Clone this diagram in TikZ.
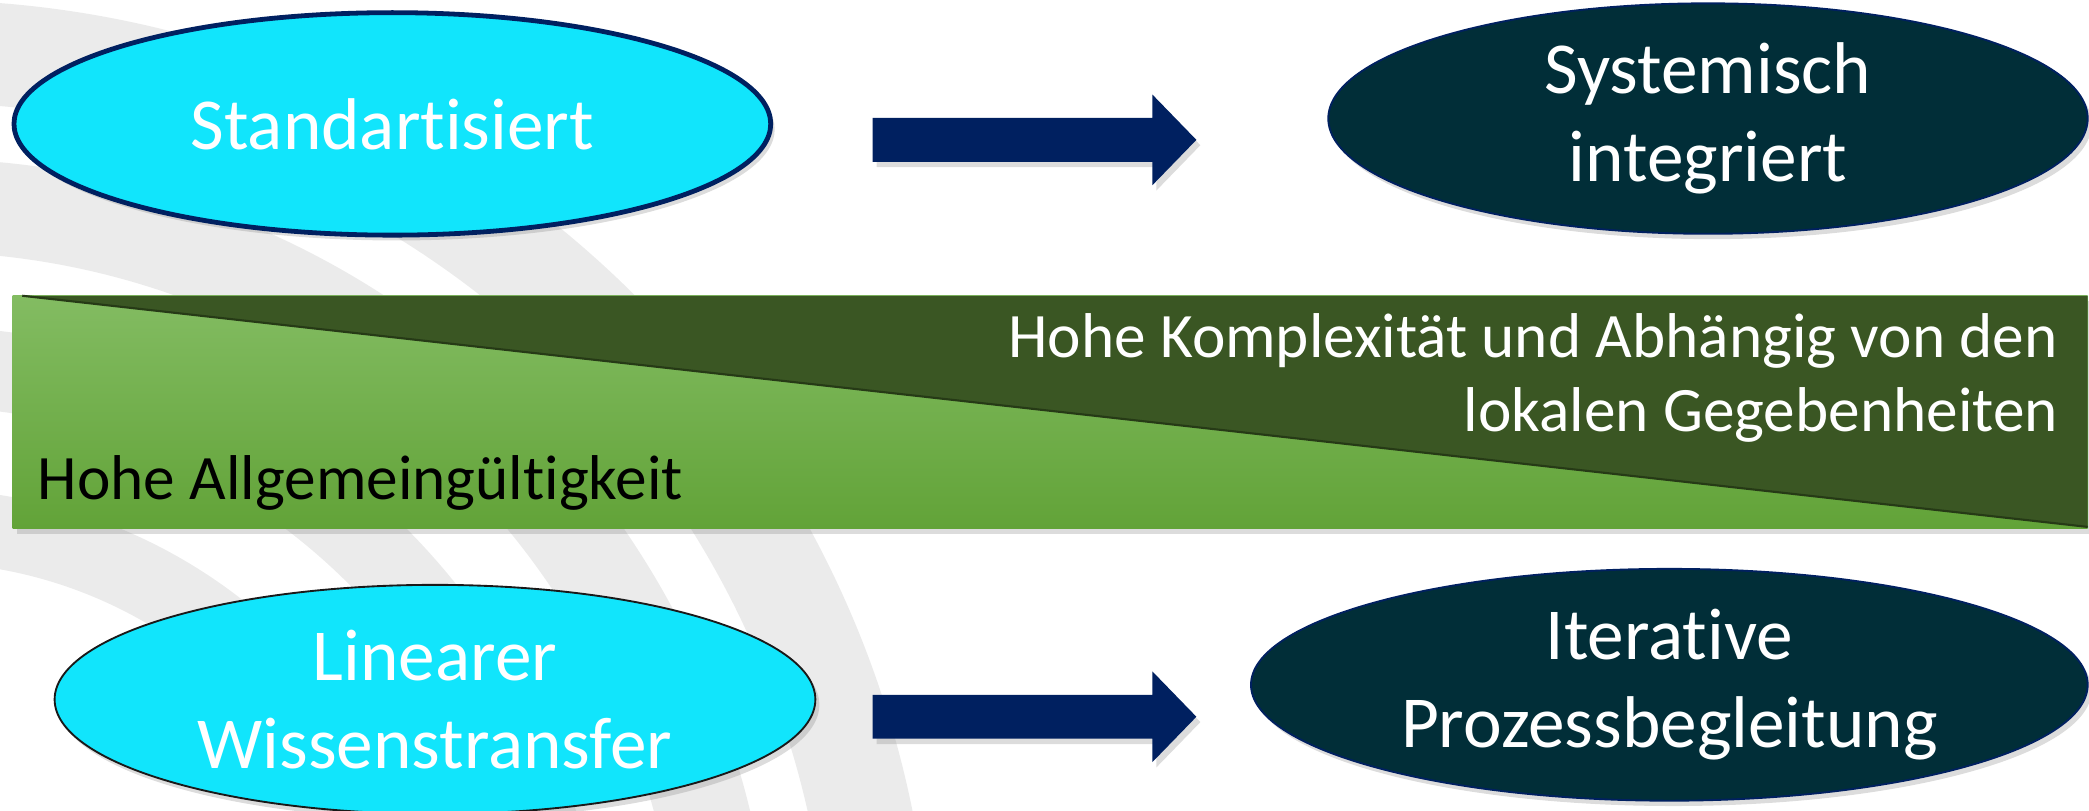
\documentclass[tikz,border=0pt]{standalone}
\usepackage{fontspec}
\setmainfont[Ligatures={NoCommon,NoContextual,NoRare},Contextuals=NoAlternate]{Carlito}
\usetikzlibrary{shapes.geometric,shadows,calc}
\newcommand{\ti}{t\kern0pt i}
\definecolor{cyanfill}{RGB}{17,229,252}
\definecolor{navy}{RGB}{0,32,96}
\definecolor{darkteal}{RGB}{1,46,56}
\definecolor{lightgreenA}{RGB}{131,188,98}
\definecolor{lightgreenB}{RGB}{98,163,56}
\definecolor{darkgreen}{RGB}{58,86,35}
\definecolor{edgegreen}{RGB}{38,58,22}
\definecolor{bggray}{RGB}{235,235,235}
\begin{document}
\begin{tikzpicture}[x=0.5pt,y=-0.5pt,
  shad/.style={drop shadow={shadow xshift=1.5pt, shadow yshift=-2pt, opacity=0.28}},
  ell/.style={ellipse, inner sep=0pt, align=center, text=white, shad,
              font=\fontsize{27.5}{33}\selectfont},
  lightell/.style={ell, fill=cyanfill},
  darkell/.style={ell, fill=darkteal, draw=navy, line width=0.7pt},
  blockarrow/.style={fill=navy, shad},
  bartext/.style={font=\fontsize{23.75}{28}\selectfont, inner sep=0pt}
]
\useasboundingbox (0,0) rectangle (1568,608);
% background arcs
\begin{scope}
  \clip (0,0) rectangle (1568,608);
  \coordinate (O) at (-60,760);
  \foreach \ri/\ro in {338/393, 455/515, 571/641, 683/760}{
    \fill[bggray, even odd rule] (O) circle[radius=\ro*0.5pt] (O) circle[radius=\ri*0.5pt];
  }
\end{scope}
% green bar
\coordinate (barTL) at (9.4,222);
\coordinate (barBR) at (1567,396.5);
\coordinate (triA) at (16.7,222);
\coordinate (triB) at (1567,222);
\coordinate (triC) at (1567,395.5);
\shade[top color=lightgreenA, bottom color=lightgreenB, shad] (barTL) rectangle (barBR);
\fill[darkgreen] (triA) -- (triB) -- (triC) -- cycle;
\draw[edgegreen, line width=0.8pt] (triA) -- (triC);
\node[bartext, text=white, anchor=base east] (t1) at (1545,268) {Hohe Komplexität und Abhängig von den};
\node[bartext, text=white, anchor=base east] (t2) at (1545,324) {lokalen Gegebenheiten};
\node[bartext, text=black, anchor=base west] (t3) at (28,375) {Hohe Allgemeingül\ti gkeit};
% ellipses
\node[lightell, draw=navy, line width=1.8pt, minimum width=284pt, minimum height=83.5pt] (E1) at (294.5,93) {Standar\ti siert};
\node[darkell, minimum width=285pt, minimum height=86.5pt] (E2) at (1282,89) {Systemisch\\integriert};
\node[lightell, draw=black!90, line width=0.7pt, minimum width=285.5pt, minimum height=86pt] (E3) at (326.5,525) {Linearer\\Wissenstransfer};
\node[darkell, minimum width=314pt, minimum height=87pt] (E4) at (1253,514) {Itera\ti ve\\Prozessbegleitung};
% block arrows
\coordinate (a1s) at (655,105);
\coordinate (a1e) at (898,105);
\coordinate (a2s) at (655,538);
\coordinate (a2e) at (898,538);
\foreach \s/\e in {a1s/a1e, a2s/a2e}{
  \fill[blockarrow] ($(\s)+(0,-16.5)$) -- ($(\e)+(-33,-16.5)$) -- ($(\e)+(-33,-34)$) -- (\e)
    -- ($(\e)+(-33,34)$) -- ($(\e)+(-33,16.5)$) -- ($(\s)+(0,16.5)$) -- cycle;
}
\end{tikzpicture}
\end{document}
